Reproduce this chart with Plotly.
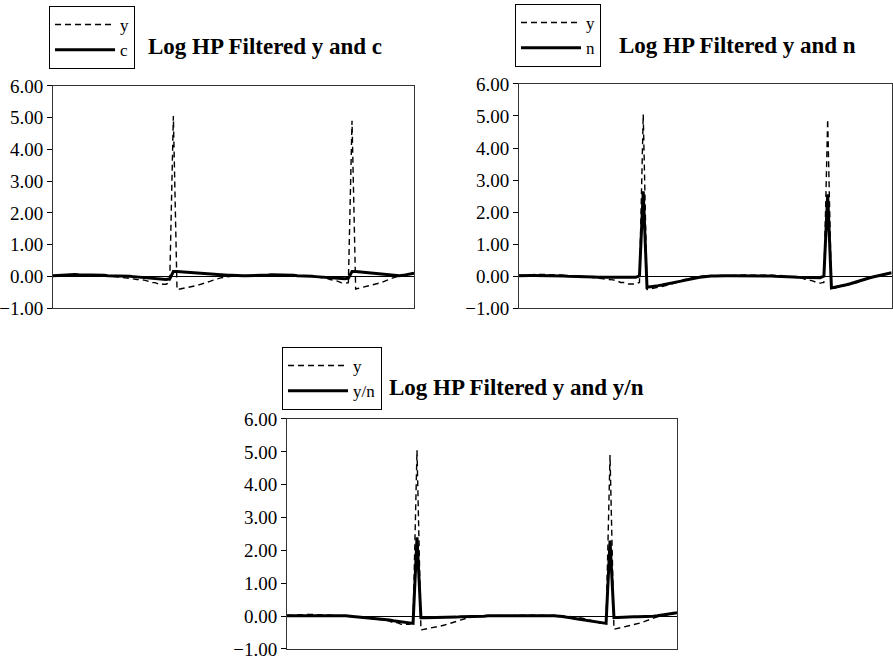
import plotly.graph_objects as go

# ---- data ----
periods = list(range(100))

y_vals = ([0.02, 0.03, 0.04, 0.05, 0.05, 0.05, 0.05, 0.05, 0.04, 0.04,
           0.03, 0.03, 0.02, 0.02, 0.01, 0.0, 0.0, -0.01, -0.02, -0.03]
          + [-0.05, -0.06, -0.08, -0.1, -0.1, -0.12, -0.15, -0.2, -0.2, -0.25, -0.25, -0.25, -0.2]
          + [5.05]
          + [-0.42]
          + [-0.4, -0.37, -0.36, -0.33, -0.3, -0.27, -0.24, -0.2, -0.16, -0.12,
             -0.08, -0.05, -0.03, -0.01, 0.0, 0.0, 0.01, 0.01, 0.02, 0.02]
          + [0.0, 0.01, 0.01, 0.02, 0.02, 0.03, 0.03, 0.03, 0.04, 0.04, 0.03, 0.03, 0.03, 0.02, 0.02]
          + [0.01, 0.0, -0.01, -0.03, -0.05, -0.06, -0.1, -0.12, -0.15, -0.2, -0.22, -0.2]
          + [4.9]
          + [-0.4, -0.37, -0.35, -0.33, -0.3, -0.27, -0.23, -0.2, -0.15, -0.1,
             -0.05, -0.02, 0.0, 0.03, 0.06, 0.08, 0.1])

c_vals = ([0.02, 0.03, 0.04, 0.05, 0.06, 0.06, 0.06, 0.05, 0.05, 0.05,
           0.04, 0.04, 0.03, 0.03, 0.03, 0.02, 0.02, 0.02, 0.01, 0.01]
          + [0.0, 0.0, -0.01, -0.02, -0.03, -0.04, -0.05, -0.06, -0.07, -0.08, -0.1, -0.1, -0.08]
          + [0.15]
          + [0.15, 0.14, 0.13, 0.12, 0.12, 0.11, 0.1, 0.1, 0.09, 0.08, 0.07,
             0.06, 0.05, 0.04, 0.03, 0.03, 0.02, 0.02, 0.02, 0.02, 0.02]
          + [0.02, 0.03, 0.03, 0.04, 0.04, 0.05, 0.05, 0.05, 0.04, 0.04, 0.03, 0.03, 0.02, 0.02, 0.01]
          + [0.0, 0.0, -0.01, -0.02, -0.03, -0.04, -0.05, -0.06, -0.07, -0.08, -0.08, -0.06]
          + [0.15]
          + [0.15, 0.14, 0.12, 0.11, 0.1, 0.09, 0.08, 0.07, 0.05, 0.04,
             0.03, 0.02, 0.02, 0.03, 0.05, 0.08, 0.1])

n_vals = ([0.01, 0.02, 0.02, 0.02, 0.02, 0.02, 0.02, 0.02, 0.01, 0.01,
           0.0, 0.0, 0.0, -0.01, -0.01, -0.02, -0.02, -0.02, -0.03, -0.03]
          + [-0.03, -0.04, -0.04, -0.05, -0.05, -0.05, -0.06, -0.06, -0.06, -0.06, -0.05, -0.04, 0.0]
          + [2.65]
          + [-0.35]
          + [-0.34, -0.32, -0.3, -0.28, -0.26, -0.24, -0.22, -0.19, -0.16, -0.13,
             -0.1, -0.08, -0.06, -0.04, -0.02, -0.01, 0.0, 0.0, 0.01, 0.01]
          + [0.01, 0.01, 0.01, 0.02, 0.02, 0.02, 0.02, 0.02, 0.01, 0.01, 0.01, 0.0, 0.0, -0.01, -0.01]
          + [-0.02, -0.02, -0.03, -0.03, -0.04, -0.04, -0.05, -0.05, -0.06, -0.06, -0.05, 0.0]
          + [2.55]
          + [-0.37, -0.35, -0.32, -0.3, -0.27, -0.24, -0.2, -0.17, -0.13, -0.1,
             -0.06, -0.03, 0.0, 0.03, 0.05, 0.07, 0.1])

yn_vals = ([0.01, 0.01, 0.02, 0.03, 0.03, 0.03, 0.03, 0.03, 0.03, 0.03,
            0.03, 0.03, 0.02, 0.02, 0.02, 0.01, 0.0, -0.01, -0.02, -0.03]
           + [-0.04, -0.05, -0.06, -0.08, -0.09, -0.1, -0.12, -0.14, -0.16, -0.18, -0.2, -0.22, -0.22]
           + [2.4]
           + [-0.05, -0.05, -0.05, -0.05, -0.04, -0.04, -0.04, -0.03, -0.03, -0.03, -0.02,
              -0.02, -0.02, -0.01, -0.01, 0.0, 0.0, 0.01, 0.01, 0.01, 0.02]
           + [0.02, 0.02, 0.02, 0.02, 0.02, 0.03, 0.03, 0.03, 0.03, 0.02, 0.02, 0.02, 0.01, 0.01, 0.0]
           + [-0.01, -0.03, -0.05, -0.07, -0.09, -0.11, -0.13, -0.15, -0.17, -0.19, -0.22, -0.22]
           + [2.3]
           + [-0.04, -0.04, -0.03, -0.03, -0.03, -0.02, -0.02, -0.02, -0.01, 0.0,
              0.0, 0.01, 0.03, 0.05, 0.06, 0.08, 0.1])

titles = ["Log HP Filtered y and c", "Log HP Filtered y and n", "Log HP Filtered y and y/n"]
second_names = ["c", "n", "y/n"]
second_series = [c_vals, n_vals, yn_vals]
y_ticks = [-1, 0, 1, 2, 3, 4, 5, 6]

FONT = "Liberation Serif"

fig = go.Figure()

axes = [("x", "y", "legend"), ("x2", "y2", "legend2"), ("x3", "y3", "legend3")]
for (xa, ya, lg), name2, ser2 in zip(axes, second_names, second_series):
    fig.add_trace(go.Scatter(x=periods, y=y_vals, mode="lines", name="y",
                             line=dict(color="black", width=1.4, dash="6px,4px"),
                             xaxis=xa, yaxis=ya, legend=lg))
    fig.add_trace(go.Scatter(x=periods, y=ser2, mode="lines", name=name2,
                             line=dict(color="black", width=3),
                             xaxis=xa, yaxis=ya, legend=lg))

x_domains = [[0.0594, 0.4636], [0.5812, 0.9985], [0.3214, 0.7581]]
y_domains = [[0.5361, 0.8705], [0.5361, 0.8735], [0.0226, 0.369]]

layout = dict(template="none", width=893, height=664, autosize=False,
              margin=dict(l=0, r=0, t=0, b=0, pad=0),
              paper_bgcolor="white", plot_bgcolor="white",
              font=dict(family=FONT, color="black", size=19))

for i in range(3):
    sx = "" if i == 0 else str(i + 1)
    layout["xaxis" + sx] = dict(domain=x_domains[i], range=[0, 99], anchor="y" + sx,
                                showticklabels=False, ticks="", showgrid=False,
                                zeroline=False, showline=True, mirror=True,
                                linecolor="#333", linewidth=1, automargin=False)
    layout["yaxis" + sx] = dict(domain=y_domains[i], range=[-1, 6], anchor="x" + sx,
                                tickvals=y_ticks, tickformat=".2f", ticks="outside",
                                ticklen=5, tickcolor="black", showgrid=False,
                                zeroline=True, zerolinecolor="black", zerolinewidth=1,
                                showline=True, mirror=True, linecolor="#333", linewidth=1,
                                automargin=False,
                                tickfont=dict(family=FONT, size=19, color="black"))

legend_pos = [(0.0549, 0.991), (0.5767, 0.994), (0.3158, 0.4774)]
for i, (lx, ly) in enumerate(legend_pos):
    key = "legend" if i == 0 else "legend" + str(i + 1)
    layout[key] = dict(x=lx, y=ly, xanchor="left", yanchor="top",
                       bordercolor="black", borderwidth=1, bgcolor="white",
                       font=dict(family=FONT, size=17, color="black"),
                       itemwidth=60, tracegroupgap=0)

fig.update_layout(**layout)

title_pos = [(0.2973, 0.9307), (0.8264, 0.932), (0.578, 0.4157)]
for t, (tx, ty) in zip(titles, title_pos):
    fig.add_annotation(text="<b>" + t + "</b>", x=tx, y=ty, xref="paper", yref="paper",
                       xanchor="center", yanchor="middle", showarrow=False,
                       font=dict(family=FONT, size=23, color="black"))

fig.write_html("out.html", config={"displayModeBar": False},
               post_script="document.body.style.margin='0';document.body.style.overflow='hidden';")
